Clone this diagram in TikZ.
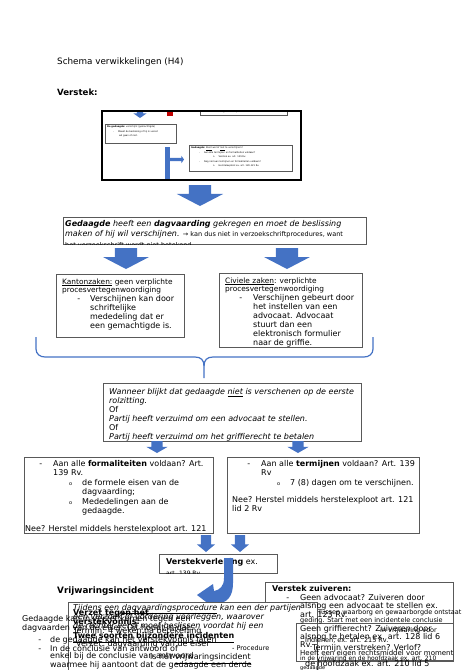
\documentclass[tikz,border=0pt]{standalone}
\usepackage{fontspec}
\setmainfont{DejaVu Sans}
\usepackage{tikz}
\usetikzlibrary{shapes.arrows,arrows.meta}
\definecolor{wordblue}{HTML}{4472C4}
\definecolor{wordred}{HTML}{C00000}
\definecolor{boxline}{HTML}{595959}

\begin{document}
\begin{tikzpicture}[x=1pt,y=-1pt]
  \tikzstyle{rect}     =[draw=boxline, line width=0.8pt, fill=white, anchor=north west, inner sep=0pt, outer sep=0pt]
  \tikzstyle{open}     =[draw=boxline, line width=0.8pt, anchor=north west, inner sep=0pt, outer sep=0pt]
  \tikzstyle{tiny}     =[draw=boxline, line width=0.4pt, fill=white, anchor=north west, inner sep=0pt]
  \tikzstyle{txt}      =[anchor=north west, inner sep=0pt, align=left, font=\fontsize{8}{9}\selectfont]
  \tikzstyle{small}    =[anchor=north west, inner sep=0pt, align=left, font=\fontsize{6.5}{8}\selectfont]
  \tikzstyle{mini}     =[anchor=north west, inner sep=0pt, align=left, font=\fontsize{2.3}{4.5}\selectfont]
  \tikzstyle{blk}      =[single arrow, fill=wordblue, draw=none, inner sep=0pt, outer sep=0pt, minimum width=0pt, anchor=tail]
  \tikzstyle{pointdown}=[rotate=-90]
  \tikzstyle{brace}    =[draw=wordblue, line width=1.2pt]
  \useasboundingbox (0,0) rectangle (474,670);

  % kop
  \node[txt, font=\fontsize{8.8}{10}\selectfont] (title) at (57,57.6) {Schema verwikkelingen (H4)};
  \node[txt, font=\bfseries\fontsize{8.6}{10}\selectfont] (verstek) at (57,88.7) {Verstek:};

  % kleine afbeelding van het schema
  \node[tiny, minimum width=87, minimum height=5] (thtop) at (200,110) {};
  \node[mini] at (214,111) {- Gedaagde verschijnt niet};
  \node[fill=wordred, minimum size=6, inner sep=0pt, anchor=north west] (redsq) at (167,110) {};
  \node[blk, pointdown, text height=3pt, text depth=3pt, single arrow head extend=3.5pt, single arrow tip angle=110, minimum height=8pt] (thdown) at (140,110) {};
  \node[tiny, minimum width=71, minimum height=19] (thleft) at (105,124) {};
  \node[mini] at (107,126) {\textbf{De gedaagde:} verschijnt (gemachtigde)\\
    \hspace*{6pt}-\hspace*{4pt}Maakt de beslissing of hij in verzet\\
    \hspace*{12pt}wil gaan of niet.};
  \node[tiny, minimum width=103, minimum height=26] (thright) at (189,145) {};
  \node[mini] at (191,147) {\textbf{Gedaagde:} \underline{Kiest} wel of \underline{niet} te verschijnen?\\
    \hspace*{8pt}-\hspace*{4pt}Aan alle termijnen en formaliteiten voldaan?\\
    \hspace*{22pt}o\hspace*{4pt}Verstek ex. art. 139 Rv.\\
    \hspace*{8pt}-\hspace*{4pt}Nog niet aan termijnen en formaliteiten voldaan?\\
    \hspace*{22pt}o\hspace*{4pt}Herstelexploot ex. art. 120-121 Rv.};
  \fill[wordblue] (165,147) rectangle (170,179);
  \node[blk, text height=1.5pt, text depth=1.5pt, single arrow head extend=2pt, single arrow tip angle=110, minimum height=14pt] (thbranch) at (170,159.5) {};
  \node[draw=black, line width=1.6pt, minimum width=199, minimum height=69, anchor=north west, inner sep=0pt] (thumb) at (101,110) {};

  % dagvaarding
  \node[blk, pointdown, text height=11pt, text depth=11pt, single arrow head extend=12pt, single arrow tip angle=125, minimum height=21pt] (down0) at (200,185) {};
  \node[rect, minimum width=303, minimum height=27] (gedaagde) at (63,217) {};
  \begin{scope}
    \clip (gedaagde.north west) rectangle (gedaagde.south east);
    \node[txt, font=\fontsize{8}{10}\selectfont] (gedtext) at (65,220) {\textit{\textbf{Gedaagde} heeft een \textbf{dagvaarding} gekregen en moet de beslissing}\\
      \textit{maken of hij wil verschijnen.} {\fontsize{6.5}{10}\selectfont → kan dus niet in verzoekschriftprocedures, want}\\[1.5pt]
      {\fontsize{6.5}{10}\selectfont het verzoekschrift wordt niet betekend.}};
  \end{scope}

  \node[blk, pointdown, text height=11pt, text depth=11pt, single arrow head extend=11.5pt, single arrow tip angle=125, minimum height=21pt] (down1) at (126,248) {};
  \node[blk, pointdown, text height=11pt, text depth=11pt, single arrow head extend=11.5pt, single arrow tip angle=125, minimum height=21pt] (down2) at (287,248) {};

  % kanton en civiel
  \node[rect, minimum width=128, minimum height=63] (kanton) at (56,274) {};
  \node[txt, font=\fontsize{7.4}{8}\selectfont] (kantonkop) at (62,278.3) {\underline{Kantonzaken:} geen verplichte\\procesvertegenwoordiging};
  \node[txt] (kantontekst) at (90,295) {\llap{-\hspace{10pt}}Verschijnen kan door\\schriftelijke\\mededeling dat er\\een gemachtigde is.};

  \node[rect, minimum width=143, minimum height=74] (civiel) at (219,273) {};
  \begin{scope}
    \clip (civiel.north west) rectangle (civiel.south east);
    \node[txt, font=\fontsize{7.4}{8}\selectfont] (civielkop) at (225,277.3) {\underline{Civiele zaken}: verplichte\\procesvertegenwoordiging};
    \node[txt] (civieltekst) at (253,294) {\llap{-\hspace{11pt}}Verschijnen gebeurt door\\het instellen van een\\advocaat. Advocaat\\stuurt dan een\\elektronisch formulier\\naar de griffie.};
  \end{scope}

  % accolade
  \coordinate (bl) at (36,337);
  \coordinate (br) at (373,337);
  \coordinate (btip) at (204,378);
  \draw[brace] (bl) -- (36,349) .. controls (36,354) and (40,357) .. (45,357) -- (195,357) .. controls (201,357) and (204,360) .. (204,366) -- (btip);
  \draw[brace] (br) -- (373,349) .. controls (373,354) and (369,357) .. (364,357) -- (213,357) .. controls (207,357) and (204,360) .. (204,366);

  % niet verschenen
  \node[rect, minimum width=258, minimum height=58] (wanneer) at (103,383) {};
  \begin{scope}
    \clip (wanneer.north west) rectangle (wanneer.south east);
    \node[txt, font=\fontsize{8}{9.1}\selectfont] (wanneertekst) at (109,388) {\textit{Wanneer blijkt dat gedaagde \underline{niet} is verschenen op de eerste}\\
      \textit{rolzitting.}\\Of\\\textit{Partij heeft verzuimd om een advocaat te stellen.}\\Of\\
      \textit{Partij heeft verzuimd om het griffierecht te betalen}};
  \end{scope}

  \node[blk, pointdown, text height=5.5pt, text depth=5.5pt, single arrow head extend=5pt, single arrow tip angle=120, minimum height=12pt] (down3) at (157,441) {};
  \node[blk, pointdown, text height=5.5pt, text depth=5.5pt, single arrow head extend=5pt, single arrow tip angle=120, minimum height=12pt] (down4) at (298,441) {};

  % formaliteiten en termijnen
  \node[rect, minimum width=189, minimum height=76] (formal) at (24,457) {};
  \begin{scope}
    \clip (formal.north west) rectangle (formal.south east);
    \node[txt] (formtekst) at (53,460) {\llap{-\hspace{11pt}}Aan alle \textbf{formaliteiten} voldaan? Art.\\139 Rv.};
    \node[txt, font=\fontsize{8}{9.4}\selectfont] (formlijst) at (82,479) {\llap{{\fontsize{5}{5}\selectfont o}\hspace{10pt}}de formele eisen van de\\dagvaarding;\\
      \llap{{\fontsize{5}{5}\selectfont o}\hspace{10pt}}Mededelingen aan de\\gedaagde.};
    \node[txt] (formnee) at (25,525) {Nee? Herstel middels herstelexploot art. 121\\lid 2 Rv};
  \end{scope}

  \node[rect, minimum width=192, minimum height=76] (termijn) at (227,457) {};
  \node[txt] (termtekst) at (261,460) {\llap{-\hspace{11pt}}Aan alle \textbf{termijnen} voldaan? Art. 139\\Rv};
  \node[txt] (termlijst) at (290,479) {\llap{{\fontsize{5}{5}\selectfont o}\hspace{10pt}}7 (8) dagen om te verschijnen.};
  \node[txt] (termnee) at (232,496) {Nee? Herstel middels herstelexploot art. 121\\lid 2 Rv};

  \node[blk, pointdown, text height=5pt, text depth=5pt, single arrow head extend=4pt, single arrow tip angle=100, minimum height=17pt] (down5) at (206,535) {};
  \node[blk, pointdown, text height=5pt, text depth=5pt, single arrow head extend=4pt, single arrow tip angle=100, minimum height=17pt] (down6) at (240,535) {};

  % verstekverlening
  \node[rect, minimum width=118, minimum height=19] (verlening) at (159,554) {};
  \begin{scope}
    \clip (verlening.north west) rectangle (verlening.south east);
    \node[txt] (verleningtekst) at (166,558) {\textbf{Verstekverlening} ex.};
    \node[txt, font=\fontsize{6}{6}\selectfont] (verleningart) at (166,570.5) {art. 139 Rv.};
  \end{scope}
  \fill[wordblue] (224,558) -- (233,558) -- (233,583) .. controls (233,597) and (227,603) .. (216,604) -- (218,611) -- (197,595) -- (213,584) -- (214,591) .. controls (220,590) and (224,586) .. (224,578) -- cycle;

  % vrijwaring, verzet en zuiveren
  \node[txt, font=\bfseries\fontsize{8.8}{10}\selectfont] (vrijwkop) at (57,586.6) {Vrijwaringsincident};
  \node[rect, minimum width=188, minimum height=78] (zuiveren) at (265,582) {};
  \node[rect, minimum width=249, minimum height=80] (vrijwbox) at (68,602) {};
  \node[open, minimum width=157, minimum height=38] (verzetbox) at (296,623) {};

  \node[txt, font=\bfseries\fontsize{8}{9}\selectfont] (zuiverkop) at (272,585) {Verstek zuiveren:};
  \node[txt, font=\fontsize{8}{8.7}\selectfont] (zuivertekst) at (300,594) {\llap{-\hspace{11pt}}Geen advocaat? Zuiveren door\\alsnog een advocaat te stellen ex.\\art. 123 Rv.};
  \node[small] (r1) at (318,609) {Tussen waarborg en gewaarborgde ontstaat};
  \node[small] (r2) at (300,617) {geding. Start met een incidentele conclusie};
  \node[txt] (r3) at (300,625) {Geen griffierecht? Zuiveren door};
  \node[small] (r4) at (380,627) {in vrijwaring voor};
  \node[txt] (r5) at (300,633) {alsnog te betalen ex. art. 128 lid 6};
  \node[small] (r6) at (305,637) {indienen, ex. art. 215 Rv.};
  \node[txt] (r7) at (300,641) {Rv.};
  \node[txt] (r8) at (312,644.5) {Termijn verstreken? Verlof?};
  \node[txt, font=\fontsize{7}{8}\selectfont] (r9) at (300,650) {Heeft een eigen rechtsmiddel voor moment};
  \node[small, font=\fontsize{6}{8}\selectfont] (r10) at (300,655.5) {in de vrijwaring en de hoofdzaak ex. art. 210};
  \node[txt] (r11) at (305,660) {de hoofdzaak ex. art. 210 lid 5};
  \node[txt, font=\fontsize{5}{6}\selectfont] (r12) at (300,665) {gedaagde};

  \node[txt] (l1) at (73,604) {\textit{Tijdens een \underline{dagvaardingsprocedure} kan een der partijen}};
  \node[txt, font=\bfseries\fontsize{8}{9}\selectfont] (l2) at (73,609) {Verzet tegen het};
  \node[txt] (l3) at (73,613) {\textit{een verzoek of vordering voorleggen, waarover}};
  \node[txt] (l4) at (22,615.5) {Gedaagde kan in verzet komen tegen een};
  \node[txt, font=\bfseries\fontsize{8}{9}\selectfont] (l5) at (73,618) {verstekvonnis:};
  \node[txt] (l6) at (73,622) {\textit{de rechter eerst moet beslissen voordat hij een}};
  \node[txt] (l7) at (22,624.5) {dagvaarden van de eiser. Dit houdt in dat:};
  \node[txt] (l8) at (73,627.5) {Termijn: 4 weken na betekening};
  \node[txt, font=\bfseries\fontsize{8}{9}\selectfont] (l9) at (73,632.5) {\underline{Twee soorten bijzondere incidenten}};
  \node[txt] (l10) at (50,636) {\llap{-\hspace{9pt}}de gedaagde kan het verstekvonnis laten};
  \node[txt] (l11) at (76,640) {Verzet: dagvaarding van de eiser};
  \node[txt] (l12) at (50,645) {\llap{-\hspace{9pt}}In de conclusie van antwoord of};
  \node[small] (l13) at (232,645) {- Procedure};
  \node[txt] (l14) at (50,652) {enkel bij de conclusie van antwoord};
  \node[txt] (l15) at (150,653.5) {is het \underline{vrijwaringsincident}};
  \node[txt] (l16) at (50,661) {waarmee hij aantoont dat de gedaagde een derde};
\end{tikzpicture}
\end{document}
